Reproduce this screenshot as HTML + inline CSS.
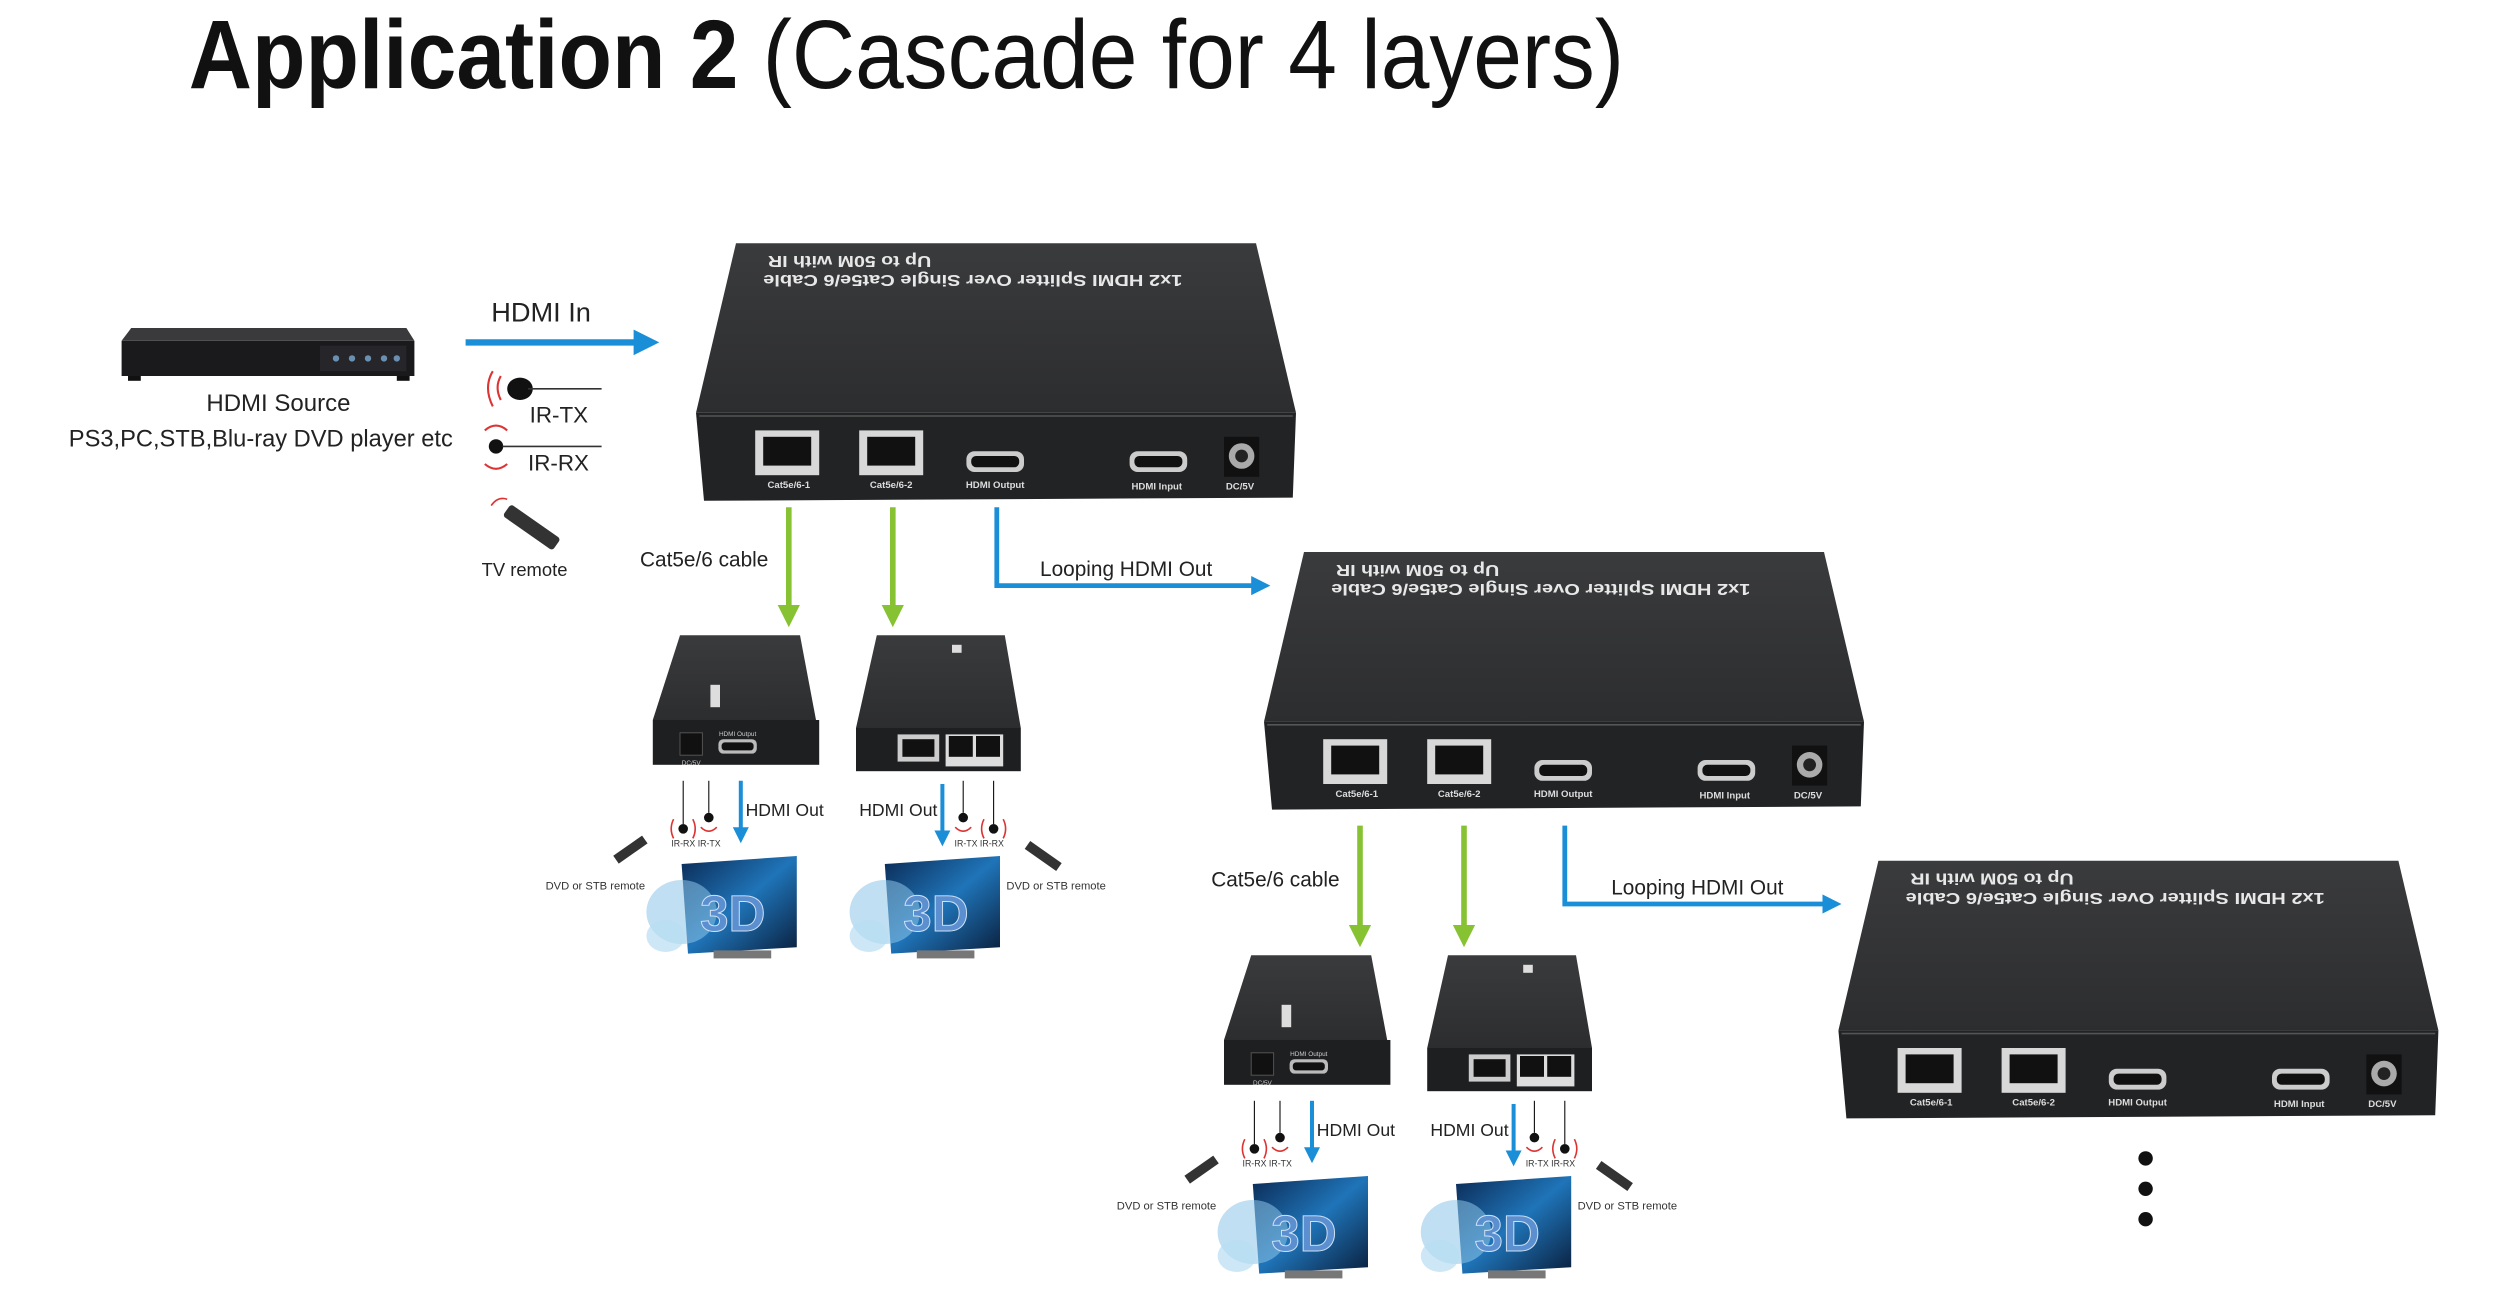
<!DOCTYPE html>
<html><head><meta charset="utf-8"><style>
html,body{margin:0;padding:0;background:#fff;}
svg{display:block}
text{font-family:"Liberation Sans",sans-serif}
</style></head><body>
<svg width="2500" height="1300" viewBox="0 0 1562.5 812.5" xmlns="http://www.w3.org/2000/svg">
<defs>
<marker id="ab" markerWidth="4" markerHeight="4" refX="2" refY="2" orient="auto" markerUnits="strokeWidth"><path d="M0,0 L4,2 L0,4 z" fill="#1b8ed8"/></marker>
<marker id="ag" markerWidth="4" markerHeight="4" refX="2" refY="2" orient="auto" markerUnits="strokeWidth"><path d="M0,0 L4,2 L0,4 z" fill="#86c232"/></marker>
<linearGradient id="top" x1="0" y1="0" x2="0" y2="1"><stop offset="0" stop-color="#3a3b3d"/><stop offset="1" stop-color="#2c2d2f"/></linearGradient>
<linearGradient id="scr" x1="0" y1="0" x2="1" y2="1"><stop offset="0" stop-color="#0b2a55"/><stop offset=".5" stop-color="#1f74b8"/><stop offset="1" stop-color="#0a1f3d"/></linearGradient>
<g id="splitter">
 <polygon points="460,152 785,152 810,258 435,258" fill="url(#top)"/>
 <polygon points="435,258 810,258 808,311 440,313" fill="#222325"/>
 <line x1="437" y1="260" x2="808" y2="260" stroke="#555" stroke-width="1"/>
 <text x="0" y="0" font-size="10" font-weight="bold" fill="#e8e8e8" text-anchor="middle" textLength="262" lengthAdjust="spacingAndGlyphs" transform="translate(608,172) rotate(180)">1x2 HDMI Splitter Over Single Cat5e/6 Cable</text>
 <text x="0" y="0" font-size="10" font-weight="bold" fill="#e8e8e8" text-anchor="middle" textLength="102" lengthAdjust="spacingAndGlyphs" transform="translate(531,160) rotate(180)">Up to 50M with IR</text>
 <rect x="472" y="269" width="40" height="28" fill="#d8d8d8"/><rect x="477" y="273" width="30" height="18" fill="#111"/>
 <rect x="537" y="269" width="40" height="28" fill="#d8d8d8"/><rect x="542" y="273" width="30" height="18" fill="#111"/>
 <rect x="604" y="282" width="36" height="13" rx="5" fill="#ccc"/><rect x="607" y="285" width="30" height="7" rx="3" fill="#111"/>
 <rect x="706" y="282" width="36" height="13" rx="5" fill="#ccc"/><rect x="709" y="285" width="30" height="7" rx="3" fill="#111"/>
 <rect x="765" y="273" width="22" height="25" fill="#111"/><circle cx="776" cy="285" r="8" fill="#aaa"/><circle cx="776" cy="285" r="4" fill="#222"/>
 <text x="493" y="305" font-size="6" font-weight="bold" fill="#ddd" text-anchor="middle">Cat5e/6-1</text>
 <text x="557" y="305" font-size="6" font-weight="bold" fill="#ddd" text-anchor="middle">Cat5e/6-2</text>
 <text x="622" y="305" font-size="6" font-weight="bold" fill="#ddd" text-anchor="middle">HDMI Output</text>
 <text x="723" y="306" font-size="6" font-weight="bold" fill="#ddd" text-anchor="middle">HDMI Input</text>
 <text x="775" y="306" font-size="6" font-weight="bold" fill="#ddd" text-anchor="middle">DC/5V</text>
</g>
<g id="rxA">
 <polygon points="425,397 500,397 510,450 408,450" fill="url(#top)"/>
 <rect x="408" y="450" width="104" height="28" fill="#1e1f21"/>
 <rect x="444" y="428" width="6" height="14" fill="#ddd"/>
 <rect x="425" y="458" width="14" height="14" fill="#111" stroke="#555" stroke-width=".6"/>
 <rect x="449" y="462" width="24" height="9" rx="3" fill="#bbb"/><rect x="451" y="464" width="20" height="5" rx="2" fill="#111"/>
 <text x="461" y="460" font-size="4" fill="#ccc" text-anchor="middle">HDMI Output</text>
 <text x="432" y="478" font-size="4" fill="#ccc" text-anchor="middle">DC/5V</text>
 <line x1="427" y1="488" x2="427" y2="515" stroke="#111" stroke-width=".7"/><circle cx="427" cy="518" r="3" fill="#111"/>
 <line x1="443" y1="488" x2="443" y2="508" stroke="#111" stroke-width=".7"/><circle cx="443" cy="511" r="3" fill="#111"/>
 <path d="M421,512 q-3,6 0,12 M433,512 q3,6 0,12 M438,517 q5,5 10,0" stroke="#d33" fill="none" stroke-width="1"/>
 <text x="435" y="529" font-size="5.5" fill="#333" text-anchor="middle">IR-RX IR-TX</text>
 <line x1="463" y1="488" x2="463" y2="522" stroke="#1b8ed8" stroke-width="2.5" marker-end="url(#ab)"/>
 <text x="466" y="510" font-size="11" fill="#222">HDMI Out</text>
 <rect x="383" y="528" width="22" height="6" fill="#333" transform="rotate(-35 394 531)"/>
 <text x="341" y="556" font-size="7" fill="#333">DVD or STB remote</text>
</g>
<g id="rxB">
 <polygon points="548,397 628,397 638,455 535,455" fill="url(#top)"/>
 <rect x="535" y="455" width="103" height="27" fill="#1e1f21"/>
 <rect x="595" y="403" width="6" height="5" fill="#ddd"/>
 <rect x="561" y="459" width="26" height="17" fill="#ccc"/><rect x="564" y="462" width="20" height="11" fill="#111"/>
 <rect x="591" y="459" width="36" height="20" fill="#ddd"/><rect x="593" y="460" width="15" height="13" fill="#111"/><rect x="610" y="460" width="15" height="13" fill="#111"/>
 <line x1="602" y1="488" x2="602" y2="508" stroke="#111" stroke-width=".7"/><circle cx="602" cy="511" r="3" fill="#111"/>
 <line x1="621" y1="488" x2="621" y2="515" stroke="#111" stroke-width=".7"/><circle cx="621" cy="518" r="3" fill="#111"/>
 <path d="M597,517 q5,5 10,0 M615,512 q-3,6 0,12 M627,512 q3,6 0,12" stroke="#d33" fill="none" stroke-width="1"/>
 <text x="612" y="529" font-size="5.5" fill="#333" text-anchor="middle">IR-TX IR-RX</text>
 <line x1="589" y1="490" x2="589" y2="524" stroke="#1b8ed8" stroke-width="2.5" marker-end="url(#ab)"/>
 <text x="537" y="510" font-size="11" fill="#222">HDMI Out</text>
 <rect x="640" y="532" width="24" height="6" fill="#333" transform="rotate(35 652 535)"/>
 <text x="629" y="556" font-size="7" fill="#333">DVD or STB remote</text>
</g>
<g id="tv">
 <polygon points="428,540 500,535 500,592 432,596" fill="url(#scr)"/>
 <rect x="448" y="594" width="36" height="5" fill="#777"/>
 <ellipse cx="428" cy="570" rx="22" ry="20" fill="#8cc4e8" opacity=".55"/>
 <ellipse cx="418" cy="585" rx="12" ry="10" fill="#b8ddf2" opacity=".7"/>
 <text x="460" y="582" font-size="32" font-weight="bold" fill="#5b8fd0" stroke="#cfe2f5" stroke-width=".6" text-anchor="middle">3D</text>
</g>
</defs>

<text x="118" y="55" font-size="61" fill="#111" textLength="897" lengthAdjust="spacingAndGlyphs"><tspan font-weight="bold">Application 2</tspan> (Cascade for 4 layers)</text>

<polygon points="82,205 254,205 259,213 76,213" fill="#3a3a3c"/>
<rect x="76" y="213" width="183" height="22" fill="#1a1a1c"/>
<rect x="200" y="216" width="54" height="16" fill="#26262a"/>
<g fill="#6a8fb0"><circle cx="210" cy="224" r="2"/><circle cx="220" cy="224" r="2"/><circle cx="230" cy="224" r="2"/><circle cx="240" cy="224" r="2"/><circle cx="248" cy="224" r="2"/></g>
<rect x="80" y="235" width="8" height="3" fill="#111"/><rect x="248" y="235" width="8" height="3" fill="#111"/>
<text x="174" y="257" font-size="15" fill="#222" text-anchor="middle">HDMI Source</text>
<text x="163" y="279" font-size="15" fill="#222" text-anchor="middle" textLength="240" lengthAdjust="spacingAndGlyphs">PS3,PC,STB,Blu-ray DVD player etc</text>

<text x="307" y="201" font-size="17" fill="#222">HDMI  In</text>
<line x1="291" y1="214" x2="404" y2="214" stroke="#1b8ed8" stroke-width="4" marker-end="url(#ab)"/>
<path d="M308,232 q-6,10 0,22 M313,235 q-4,7 0,15" stroke="#d33" fill="none" stroke-width="1.3"/>
<ellipse cx="325" cy="243" rx="8" ry="7" fill="#111"/>
<line x1="330" y1="243" x2="376" y2="243" stroke="#333" stroke-width="1"/>
<text x="331" y="264" font-size="14" fill="#222">IR-TX</text>
<path d="M303,269 q7,-6 14,0 M303,290 q7,6 14,0" stroke="#d33" fill="none" stroke-width="1.3"/>
<circle cx="310" cy="279" r="4.5" fill="#111"/>
<line x1="314" y1="279" x2="376" y2="279" stroke="#333" stroke-width="1"/>
<text x="330" y="294" font-size="14" fill="#222">IR-RX</text>
<path d="M307,316 q4,-6 10,-4" stroke="#d33" fill="none" stroke-width="1"/>
<rect x="313" y="325" width="38" height="9" rx="2" fill="#333" transform="rotate(35 332 330)"/>
<text x="301" y="360" font-size="11.5" fill="#222">TV remote</text>

<use href="#splitter"/>
<use href="#splitter" transform="translate(355,193)"/>
<use href="#splitter" transform="translate(714,386)"/>

<line x1="493" y1="317" x2="493" y2="385" stroke="#86c232" stroke-width="3.5" marker-end="url(#ag)"/>
<line x1="558" y1="317" x2="558" y2="385" stroke="#86c232" stroke-width="3.5" marker-end="url(#ag)"/>
<text x="400" y="354" font-size="13" fill="#222">Cat5e/6 cable</text>
<polyline points="623,317 623,366 788,366" stroke="#1b8ed8" stroke-width="3" fill="none" marker-end="url(#ab)"/>
<text x="650" y="360" font-size="13" fill="#222">Looping HDMI Out</text>

<use href="#rxA"/><use href="#rxB"/>
<use href="#tv" transform="translate(-2,0)"/>
<use href="#tv" transform="translate(125,0)"/>

<line x1="850" y1="516" x2="850" y2="585" stroke="#86c232" stroke-width="3.5" marker-end="url(#ag)"/>
<line x1="915" y1="516" x2="915" y2="585" stroke="#86c232" stroke-width="3.5" marker-end="url(#ag)"/>
<text x="757" y="554" font-size="13" fill="#222">Cat5e/6 cable</text>
<polyline points="978,516 978,565 1145,565" stroke="#1b8ed8" stroke-width="3" fill="none" marker-end="url(#ab)"/>
<text x="1007" y="559" font-size="13" fill="#222">Looping HDMI Out</text>

<use href="#rxA" transform="translate(357,200)"/><use href="#rxB" transform="translate(357,200)"/>
<use href="#tv" transform="translate(355,200)"/>
<use href="#tv" transform="translate(482,200)"/>

<circle cx="1341" cy="724" r="4.5" fill="#111"/>
<circle cx="1341" cy="743" r="4.5" fill="#111"/>
<circle cx="1341" cy="762" r="4.5" fill="#111"/>
</svg>
</body></html>
